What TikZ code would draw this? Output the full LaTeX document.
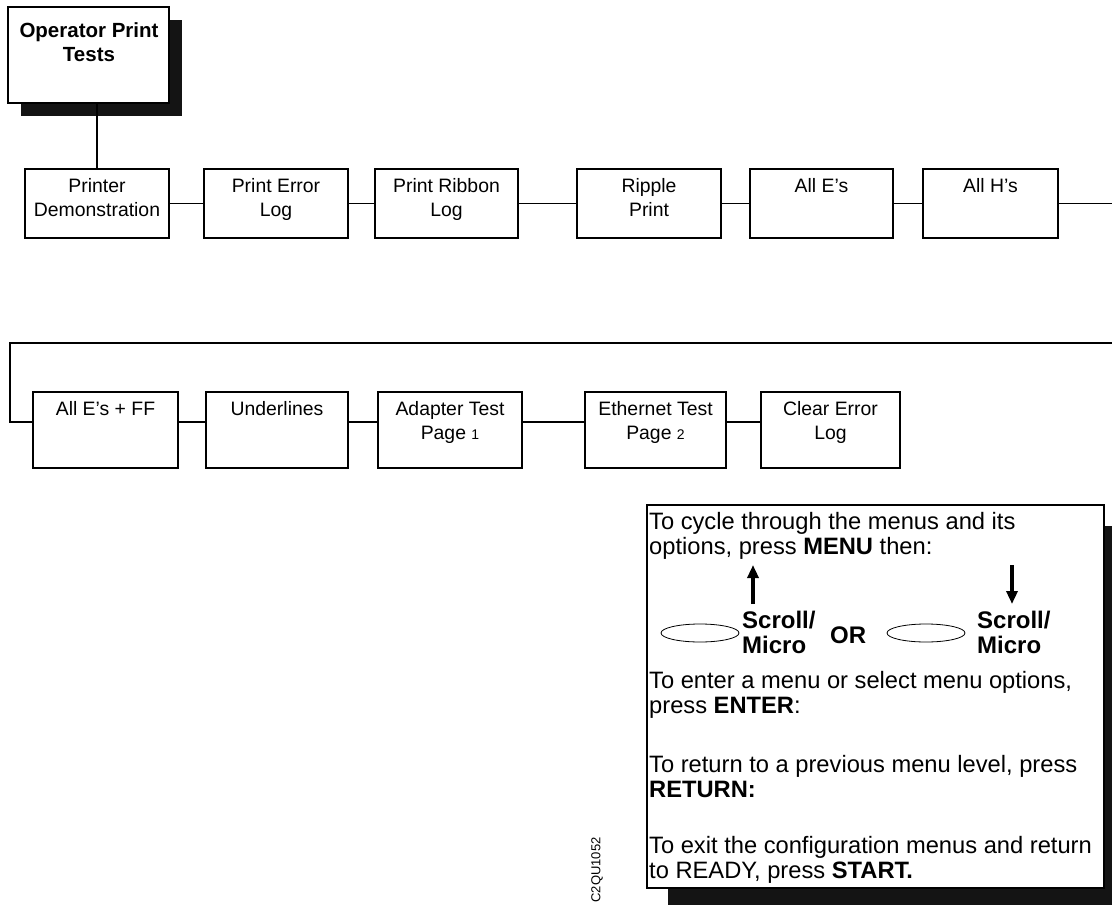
\documentclass[tikz,border=0pt]{standalone}
\usepackage{fontspec}
\setmainfont{Liberation Sans}
\usetikzlibrary{calc,arrows.meta,shadows,shapes.geometric}
\begin{document}
\begin{tikzpicture}[x=1pt,y=-1pt,
  box/.style={draw, line width=1.6pt, minimum width=#1, inner sep=0pt, fill=white},
  row1/.style={box=#1, minimum height=69pt},
  row2/.style={box=#1, minimum height=76pt},
  lbl/.style={anchor=north, align=center, inner sep=0pt, font=\fontsize{19.4}{24.5}\selectfont},
  ltxt/.style={anchor=north west, align=left, inner sep=0pt, font=\fontsize{23.7}{25.5}\selectfont},
  btxt/.style={anchor=north west, align=left, inner sep=0pt, font=\fontsize{24}{25}\selectfont\bfseries},
  conn/.style={line width=1.6pt},
  bigarrow/.style={line width=3.8pt, -{Triangle[length=13pt,width=11pt]}},
  blackshadow/.style={general shadow={shadow xshift=#1, shadow yshift=-#1, fill=black!92}}
]
\useasboundingbox (0,0) rectangle (1112,905);
\clip (0,0) rectangle (1112,905);

% title box
\node[draw, line width=1.6pt, fill=white, minimum width=161pt, minimum height=96pt, inner sep=0pt,
      blackshadow=13pt] (title) at (88.5,55) {};
\node[anchor=north, align=center, inner sep=0pt, font=\fontsize{20.5}{24}\selectfont\bfseries]
  (titletxt) at (89,22) {Operator Print\\Tests};

% row 1
\node[row1=144pt] (b1) at (97,203.5) {};
\node[row1=144pt] (b2) at (276,203.5) {};
\node[row1=143pt] (b3) at (446.5,203.5) {};
\node[row1=144pt] (b4) at (649,203.5) {};
\node[row1=143pt] (b5) at (821.5,203.5) {};
\node[row1=135pt] (b6) at (990.5,203.5) {};
\node[lbl] (t1) at ($(b1.north)+(0,10)$) {Printer\\Demonstration};
\node[lbl] (t2) at ($(b2.north)+(0,10)$) {Print Error\\Log};
\node[lbl] (t3) at ($(b3.north)+(0,10)$) {Print Ribbon\\Log};
\node[lbl] (t4) at ($(b4.north)+(0,10)$) {Ripple\\Print};
\node[lbl] (t5) at ($(b5.north)+(0,10)$) {All E’s};
\node[lbl] (t6) at ($(b6.north)+(0,10)$) {All H’s};

\coordinate (r1end) at (1112,203.5);
\draw[conn] (title.south -| b1.north) -- (b1.north);
\draw[conn] (b1.east) -- (b2.west);
\draw[conn] (b2.east) -- (b3.west);
\draw[conn] (b3.east) -- (b4.west);
\draw[conn] (b4.east) -- (b5.west);
\draw[conn] (b5.east) -- (b6.west);
\draw[conn] (b6.east) -- (r1end);

% row 2
\node[row2=145pt] (c1) at (105.5,430) {};
\node[row2=142pt] (c2) at (277,430) {};
\node[row2=144pt] (c3) at (450,430) {};
\node[row2=141pt] (c4) at (655.5,430) {};
\node[row2=139pt] (c5) at (830.5,430) {};
\node[lbl] (u1) at ($(c1.north)+(0,10)$) {All E’s + FF};
\node[lbl] (u2) at ($(c2.north)+(0,10)$) {Underlines};
\node[lbl] (u3) at ($(c3.north)+(0,10)$) {Adapter Test\\Page {\fontsize{14}{14}\selectfont 1}};
\node[lbl] (u4) at ($(c4.north)+(0,10)$) {Ethernet Test\\Page {\fontsize{14}{14}\selectfont 2}};
\node[lbl] (u5) at ($(c5.north)+(0,10)$) {Clear Error\\Log};

\coordinate (r2start) at (1112,343);
\coordinate (r2corner) at (10,343);
\draw[conn] (r2start) -- (r2corner) -- ($(r2corner |- c1.west)+(0,-8)$) -- ($(c1.west)+(0,-8)$);
\draw[conn] ($(c1.east)+(0,-8)$) -- ($(c2.west)+(0,-8)$);
\draw[conn] ($(c2.east)+(0,-8)$) -- ($(c3.west)+(0,-8)$);
\draw[conn] ($(c3.east)+(0,-8)$) -- ($(c4.west)+(0,-8)$);
\draw[conn] ($(c4.east)+(0,-8)$) -- ($(c5.west)+(0,-8)$);

% legend
\node[draw, line width=1.1pt, fill=white, minimum width=457pt, minimum height=383pt, inner sep=0pt,
      blackshadow=21pt] (legend) at (875.5,696.5) {};
\node[ltxt] (p1) at (649,512) {To cycle through the menus and its\\options, press \textbf{MENU} then:};
\node[ellipse, draw, line width=0.8pt, minimum width=78pt, minimum height=18pt, inner sep=0pt] (e1) at (700,633) {};
\node[ellipse, draw, line width=0.8pt, minimum width=78pt, minimum height=18pt, inner sep=0pt] (e2) at (926,633) {};
\node[btxt] (s1) at (742,611) {Scroll/\\Micro};
\node[btxt] (s2) at (977,611) {Scroll/\\Micro};
\node[btxt] (or) at (830,627) {OR};
\coordinate (a1s) at (753,604);
\coordinate (a1e) at (753,565);
\coordinate (a2s) at (1012,565);
\coordinate (a2e) at (1012,604);
\draw[bigarrow] (a1s) -- (a1e);
\draw[bigarrow] (a2s) -- (a2e);
\node[ltxt] (p2) at (649,671) {To enter a menu or select menu options,\\press \textbf{ENTER}:};
\node[ltxt] (p3) at (649,755) {To return to a previous menu level, press\\\textbf{RETURN:}};
\node[ltxt] (p4) at (649,836) {To exit the configuration menus and return\\to READY, press \textbf{START.}};

\node[rotate=90, inner sep=0pt, font=\fontsize{13}{13}\selectfont] (code) at (597,870) {C2QU1052};
\end{tikzpicture}
\end{document}
